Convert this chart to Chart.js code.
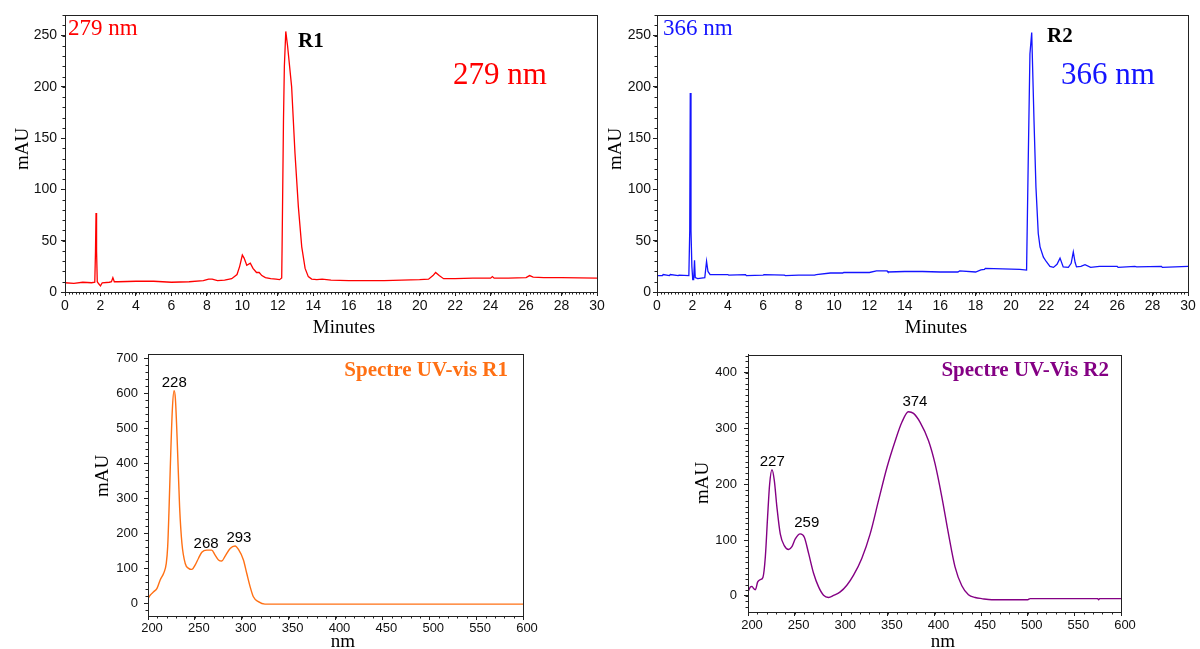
<!DOCTYPE html>
<html><head><meta charset="utf-8">
<script src="https://cdn.jsdelivr.net/npm/chart.js@4/dist/chart.umd.min.js"></script>
<style>
html,body{margin:0;padding:0;background:#fff;width:1200px;height:649px;overflow:hidden;}
.box{position:absolute;}
canvas{display:block;}
</style></head><body>
<div class="box" style="left:0px;top:0px;"><canvas id="c1" width="620" height="340"></canvas></div>
<div class="box" style="left:600px;top:0px;"><canvas id="c2" width="600" height="340"></canvas></div>
<div class="box" style="left:80px;top:340px;"><canvas id="c3" width="470" height="309"></canvas></div>
<div class="box" style="left:680px;top:340px;"><canvas id="c4" width="470" height="309"></canvas></div>
<script>
// ---- Data ----
const timeR1 = [0,0.5,1.0,1.5,1.68,1.72,1.75,1.78,1.82,1.9,2.0,2.1,2.5,2.62,2.7,2.78,3.0,4.0,5.0,6.0,7.0,7.8,8.1,8.3,8.6,9.0,9.4,9.7,9.85,10.0,10.1,10.25,10.45,10.6,10.8,10.95,11.1,11.3,11.6,11.9,12.1,12.22,12.24,12.32,12.37,12.45,12.55,12.78,12.97,13.16,13.35,13.54,13.72,13.91,14.2,14.5,15.0,16,18,19,20,20.5,20.75,20.9,21.1,21.35,22,23,24,24.1,24.2,25,26,26.2,26.4,27,28,30];
const absR1  = [9,8.5,9.5,9,9.5,40,77,40,10,8,6,9,9.5,10,14,10,10,10.5,10.5,9.5,10,11,12.5,12.5,11,11.5,13,17,25,36,33,26,28,23,19,19,16,14,13,12.5,12,13.6,41,167,220,254,240,200,135,83,44,23,15,12.6,12,12.5,11.5,11,11,11.5,12,12.5,16,19,16,13,13,13.5,13.5,15,13.5,13.5,14,16,14.5,14,14,13.5];

const timeR2 = [0,0.3,0.35,0.7,0.75,1.2,1.25,1.8,1.85,1.88,1.92,1.97,2.02,2.07,2.12,2.16,2.3,2.7,2.8,2.88,3.0,4.0,4.05,5,5.05,6,6.05,7.2,7.25,8,8.9,9.0,9.8,10.5,10.55,12,12.4,13.0,13.05,14,15,16,17,17.1,18,18.3,18.5,18.55,20.5,20.88,20.98,21.07,21.17,21.3,21.41,21.54,21.64,21.83,22.0,22.2,22.4,22.6,22.77,22.95,23.24,23.4,23.52,23.62,23.7,23.95,24.18,24.5,25,26,26.05,27,27.1,28.5,28.55,30];
const absR2  = [16,16,17,16,17,16,16.5,16,60,194,60,25,12,12,31,14,13,14,30,20,17,17,16.5,17,16,16.5,17,16.5,16,16.5,16.5,17,18.5,18.5,19,19,20.5,20.5,19.5,20,20,19.5,19.5,20.5,19.5,21.5,22,23,22,21.4,135,232,253,167,102,57,44,34,29.5,25,24,27,33,24.5,24,28,39,29,24.5,25,26.7,24,25,25,24,25,24.5,25,24,25];

const wlR1   = [200,202.5,206,209.6,213,216.7,219.5,221,222.3,223.8,226,227.8,229.2,231,233.7,236.2,239.7,243.3,246.8,250.4,253.9,257.4,262.8,268,271.6,275.2,278.7,282.3,287.6,292.9,296.5,301.8,305.3,308.9,312.4,317.7,324.8,400,500,600];
const specR1 = [14,24,33,43,67,86,114,162,257,390,555,607,585,476,276,171,114,100,97,110,129,146,152,152,138,124,121,135,157,164,154,124,86,48,19,5,-2,-2,-2,-2];

const wlR2   = [200,202.5,204.3,206,207.9,210.4,213.2,216,218.6,221,223.2,225.7,228.2,231,234.6,238.9,243.6,247.1,250.7,256,260.4,265,270.4,275.7,281,286.4,291.8,298.9,306,313.2,322,331,340,349,357.9,365,372,377.5,384.6,393.6,400.7,407.9,415,422,429.3,436.4,443.6,450.7,461.4,500,502.5,575,576,577,600];
const specR2 = [7,16,17,13,11,25,29,33,70,141,200,226,207,159,111,90,83,88,102,111,105,76,40,16,1,-3,0.6,7,19,37,67,111,171,230,278,311,330,327,311,278,236,177,111,52,18,2,-3,-5,-7,-7,-5,-5,-7,-5,-5];

const chromTicksX = [0,2,4,6,8,10,12,14,16,18,20,22,24,26,28,30];
const chromTicksY = [0,50,100,150,200,250];
const specTicksX  = [200,250,300,350,400,450,500,550,600];
const spec1TicksY = [0,100,200,300,400,500,600,700];
const spec2TicksY = [0,100,200,300,400];
const peaksR1 = ['228','268','293'];
const peaksR2 = ['227','259','374'];

// ---- Helpers ----
const SERIF = '"Liberation Serif","Times New Roman",serif';
const SANS = '"Liberation Sans",Arial,sans-serif';
const xy = (xs, ys) => xs.map((x, i) => ({x, y: ys[i]}));

const framePlugin = {
  id: 'frame',
  afterDraw(chart, args, o) {
    const {ctx, chartArea: a, scales} = chart;
    const x = scales.x, y = scales.y;
    ctx.save();
    ctx.strokeStyle = '#222'; ctx.lineWidth = 1;
    ctx.strokeRect(Math.round(a.left) + 0.5, Math.round(a.top) + 0.5, Math.round(a.right - a.left), Math.round(a.bottom - a.top));
    ctx.beginPath();
    for (let n = Math.ceil(x.min / o.xMinor); n * o.xMinor <= x.max + 1e-9; n++) {
      const px = Math.round(x.getPixelForValue(n * o.xMinor)) + 0.5;
      ctx.moveTo(px, a.bottom); ctx.lineTo(px, a.bottom + o.minorLen);
    }
    for (let n = Math.ceil(y.min / o.yMinor); n * o.yMinor <= y.max + 1e-9; n++) {
      const py = Math.round(y.getPixelForValue(n * o.yMinor)) + 0.5;
      ctx.moveTo(a.left, py); ctx.lineTo(a.left - o.minorLen, py);
    }
    ctx.stroke();
    for (const t of o.texts) {
      ctx.save();
      ctx.font = t.font; ctx.fillStyle = t.color || '#000';
      ctx.textAlign = t.align || 'left'; ctx.textBaseline = t.baseline || 'alphabetic';
      let px = t.x, py = t.y;
      if (t.data) { px = x.getPixelForValue(t.x); py = y.getPixelForValue(t.y); }
      ctx.translate(px, py);
      if (t.rotate) ctx.rotate(t.rotate);
      ctx.fillText(t.text, 0, 0);
      ctx.restore();
    }
    ctx.restore();
  }
};

function build(id, p) {
  return new Chart(document.getElementById(id), {
    type: 'line',
    data: { datasets: [{ data: p.data, borderColor: p.color, borderWidth: p.lw, pointRadius: 0,
      fill: false, tension: p.smooth ? 0.4 : 0, cubicInterpolationMode: p.smooth ? 'monotone' : 'default' }] },
    options: {
      responsive: false, animation: false, devicePixelRatio: 1,
      layout: { padding: { left: 0, top: p.padTop, right: p.padRight, bottom: 0 } },
      plugins: { legend: { display: false }, tooltip: { enabled: false }, frame: p.frame },
      scales: {
        x: { type: 'linear', min: p.xMin, max: p.xMax,
          afterBuildTicks: s => { s.ticks = p.xTicks.map(v => ({ value: v })); },
          afterFit: s => { s.height = p.xH; },
          ticks: { autoSkip: false, maxRotation: 0, padding: p.xPad, labelOffset: p.labelOffset,
            color: '#111', font: { family: SANS, size: p.tickSize } },
          grid: { display: true, drawOnChartArea: false, drawTicks: true, tickLength: 4, tickColor: '#222' },
          border: { display: true, color: '#222' }
        },
        y: { type: 'linear', min: p.yMin, max: p.yMax,
          afterBuildTicks: s => { s.ticks = p.yTicks.map(v => ({ value: v })); },
          afterFit: s => { s.width = p.yW; },
          ticks: { padding: p.yPad, color: '#111', font: { family: SANS, size: p.tickSize } },
          grid: { display: true, drawOnChartArea: false, drawTicks: true, tickLength: 4, tickColor: '#222' },
          border: { display: true, color: '#222' }
        }
      }
    },
    plugins: [framePlugin]
  });
}

const RED = '#ff0000', BLUE = '#1414ff', ORANGE = '#ff7014', PURPLE = '#840084';

build('c1', {
  data: xy(timeR1, absR1), color: RED, lw: 1.3, smooth: false,
  xMin: 0, xMax: 30, yMin: 0, yMax: 270, xTicks: chromTicksX, yTicks: chromTicksY,
  padTop: 15, padRight: 23, yW: 65, xH: 48, xPad: 2, yPad: 4, labelOffset: 0, tickSize: 14,
  frame: { xMinor: 0.2, yMinor: 10, minorLen: 2.5, texts: [
    { text: '279 nm', x: 68, y: 35, font: '23px ' + SERIF, color: RED },
    { text: 'R1', x: 298, y: 47, font: 'bold 21px ' + SERIF, color: '#000' },
    { text: '279 nm', x: 453, y: 84, font: '31px ' + SERIF, color: RED },
    { text: 'mAU', x: 23, y: 149, font: '19px ' + SERIF, align: 'center', baseline: 'middle', rotate: -Math.PI / 2 },
    { text: 'Minutes', x: 344, y: 333, font: '19px ' + SERIF, align: 'center' }
  ] }
});

build('c2', {
  data: xy(timeR2, absR2), color: BLUE, lw: 1.3, smooth: false,
  xMin: 0, xMax: 30, yMin: 0, yMax: 270, xTicks: chromTicksX, yTicks: chromTicksY,
  padTop: 15, padRight: 12, yW: 57, xH: 48, xPad: 2, yPad: 2, labelOffset: 0, tickSize: 14,
  frame: { xMinor: 0.2, yMinor: 10, minorLen: 2.5, texts: [
    { text: '366 nm', x: 63, y: 35, font: '23px ' + SERIF, color: BLUE },
    { text: 'R2', x: 447, y: 42, font: 'bold 21px ' + SERIF, color: '#000' },
    { text: '366 nm', x: 461, y: 84, font: '31px ' + SERIF, color: BLUE },
    { text: 'mAU', x: 16, y: 149, font: '19px ' + SERIF, align: 'center', baseline: 'middle', rotate: -Math.PI / 2 },
    { text: 'Minutes', x: 336, y: 333, font: '19px ' + SERIF, align: 'center' }
  ] }
});

build('c3', {
  data: xy(wlR1, specR1), color: ORANGE, lw: 1.4, smooth: true,
  xMin: 200, xMax: 600, yMin: -36, yMax: 712, xTicks: specTicksX, yTicks: spec1TicksY,
  padTop: 14, padRight: 27, yW: 68, xH: 33, xPad: 1, yPad: 6, labelOffset: 4, tickSize: 13,
  frame: { xMinor: 10, yMinor: 20, minorLen: 2.5, texts: [
    { text: 'Spectre UV-vis R1', x: 428, y: 36, font: 'bold 21px ' + SERIF, color: ORANGE, align: 'right' },
    { text: 'mAU', x: 23, y: 136, font: '19px ' + SERIF, align: 'center', baseline: 'middle', rotate: -Math.PI / 2 },
    { text: 'nm', x: 263, y: 307, font: '19px ' + SERIF, align: 'center' },
    { text: peaksR1[0], x: 228, y: 629, data: true, font: '15px ' + SANS, align: 'center', baseline: 'middle' },
    { text: peaksR1[1], x: 262, y: 169, data: true, font: '15px ' + SANS, align: 'center', baseline: 'middle' },
    { text: peaksR1[2], x: 297, y: 187, data: true, font: '15px ' + SANS, align: 'center', baseline: 'middle' }
  ] }
});

build('c4', {
  data: xy(wlR2, specR2), color: PURPLE, lw: 1.4, smooth: true,
  xMin: 200, xMax: 600, yMin: -29, yMax: 432, xTicks: specTicksX, yTicks: spec2TicksY,
  padTop: 14, padRight: 29, yW: 68, xH: 37, xPad: 2, yPad: 7, labelOffset: 4, tickSize: 13,
  frame: { xMinor: 10, yMinor: 10, minorLen: 2.5, texts: [
    { text: 'Spectre UV-Vis R2', x: 429, y: 36, font: 'bold 21px ' + SERIF, color: PURPLE, align: 'right' },
    { text: 'mAU', x: 23, y: 143, font: '19px ' + SERIF, align: 'center', baseline: 'middle', rotate: -Math.PI / 2 },
    { text: 'nm', x: 263, y: 307, font: '19px ' + SERIF, align: 'center' },
    { text: peaksR2[0], x: 226, y: 241, data: true, font: '15px ' + SANS, align: 'center', baseline: 'middle' },
    { text: peaksR2[1], x: 263, y: 130, data: true, font: '15px ' + SANS, align: 'center', baseline: 'middle' },
    { text: peaksR2[2], x: 379, y: 348, data: true, font: '15px ' + SANS, align: 'center', baseline: 'middle' }
  ] }
});
</script>
</body></html>
